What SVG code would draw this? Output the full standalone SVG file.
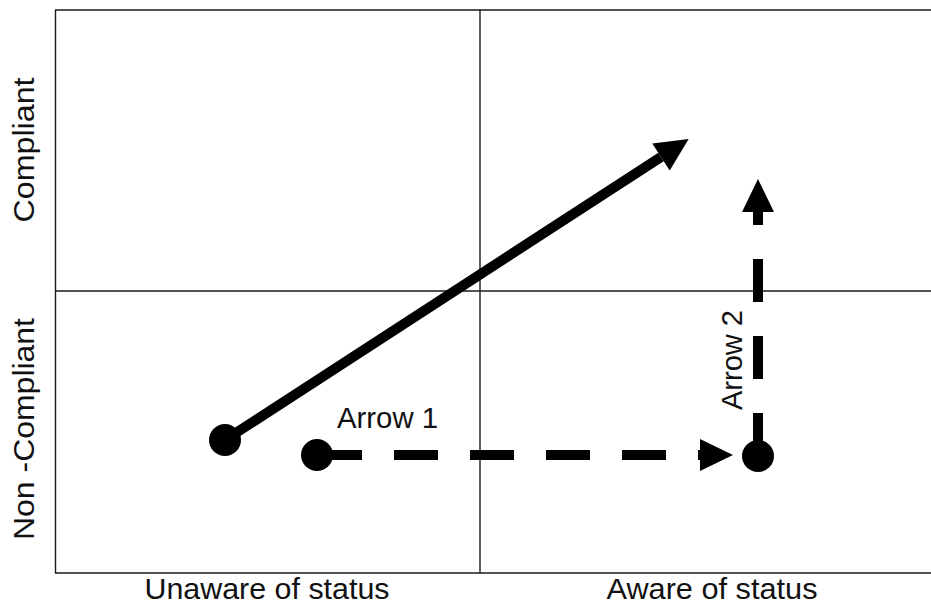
<svg xmlns="http://www.w3.org/2000/svg" width="931" height="606" viewBox="0 0 931 606">
  <style>
    .axis { stroke: #1a1a1a; stroke-width: 1.4; fill: none; }
    .solid { stroke: #000; stroke-width: 10; fill: none; }
    .dash { stroke: #000; stroke-width: 10; fill: none; stroke-dasharray: 44 32; }
    .dot { fill: #000; }
    text { font-family: "Liberation Sans", Arial, sans-serif; font-size: 30px; fill: #111; }
    .bottom { font-size: 29px; }
  </style>
  <defs>
    <marker id="head" markerUnits="userSpaceOnUse" markerWidth="34" markerHeight="34" refX="0" refY="16" orient="auto" overflow="visible">
      <path d="M0,0 L33,16 L0,32 Z" fill="#000"/>
    </marker>
  </defs>
  <rect width="931" height="606" fill="#fff"/>
  <g id="frame">
    <line class="axis" x1="55.5" y1="10" x2="55.5" y2="573"/>
    <line class="axis" x1="55" y1="10" x2="931" y2="10"/>
    <line class="axis" x1="55" y1="573" x2="931" y2="573"/>
    <line class="axis" x1="480" y1="10" x2="480" y2="573"/>
    <line class="axis" x1="55" y1="291" x2="931" y2="291"/>
  </g>
  <g id="labels">
    <text class="bottom" x="267" y="599" text-anchor="middle" textLength="245" lengthAdjust="spacingAndGlyphs">Unaware of status</text>
    <text class="bottom" x="712" y="599" text-anchor="middle" textLength="211" lengthAdjust="spacingAndGlyphs">Aware of status</text>
    <text transform="translate(34,150) rotate(-90)" text-anchor="middle" textLength="145" lengthAdjust="spacingAndGlyphs">Compliant</text>
    <text transform="translate(34,429) rotate(-90)" text-anchor="middle" textLength="222" lengthAdjust="spacingAndGlyphs">Non -Compliant</text>
  </g>
  <g id="connectors">
    <line class="solid" x1="225" y1="440" x2="661" y2="157" marker-end="url(#head)"/>
    <line class="dash" x1="318" y1="455" x2="700" y2="455" marker-end="url(#head)"/>
    <line class="dash" x1="758" y1="456" x2="758" y2="212" style="stroke-dasharray: 43 34" marker-end="url(#head)"/>
  </g>
  <g id="start-solid"><circle class="dot" cx="225" cy="440" r="16"/></g>
  <g id="start-arrow1"><circle class="dot" cx="317" cy="455" r="16"/></g>
  <g id="start-arrow2"><circle class="dot" cx="758" cy="456" r="16"/></g>
  <g id="arrow1-label"><text x="337" y="428" textLength="101" lengthAdjust="spacingAndGlyphs">Arrow 1</text></g>
  <g id="arrow2-label"><text transform="translate(742,410) rotate(-90)" textLength="100" lengthAdjust="spacingAndGlyphs">Arrow 2</text></g>
</svg>
